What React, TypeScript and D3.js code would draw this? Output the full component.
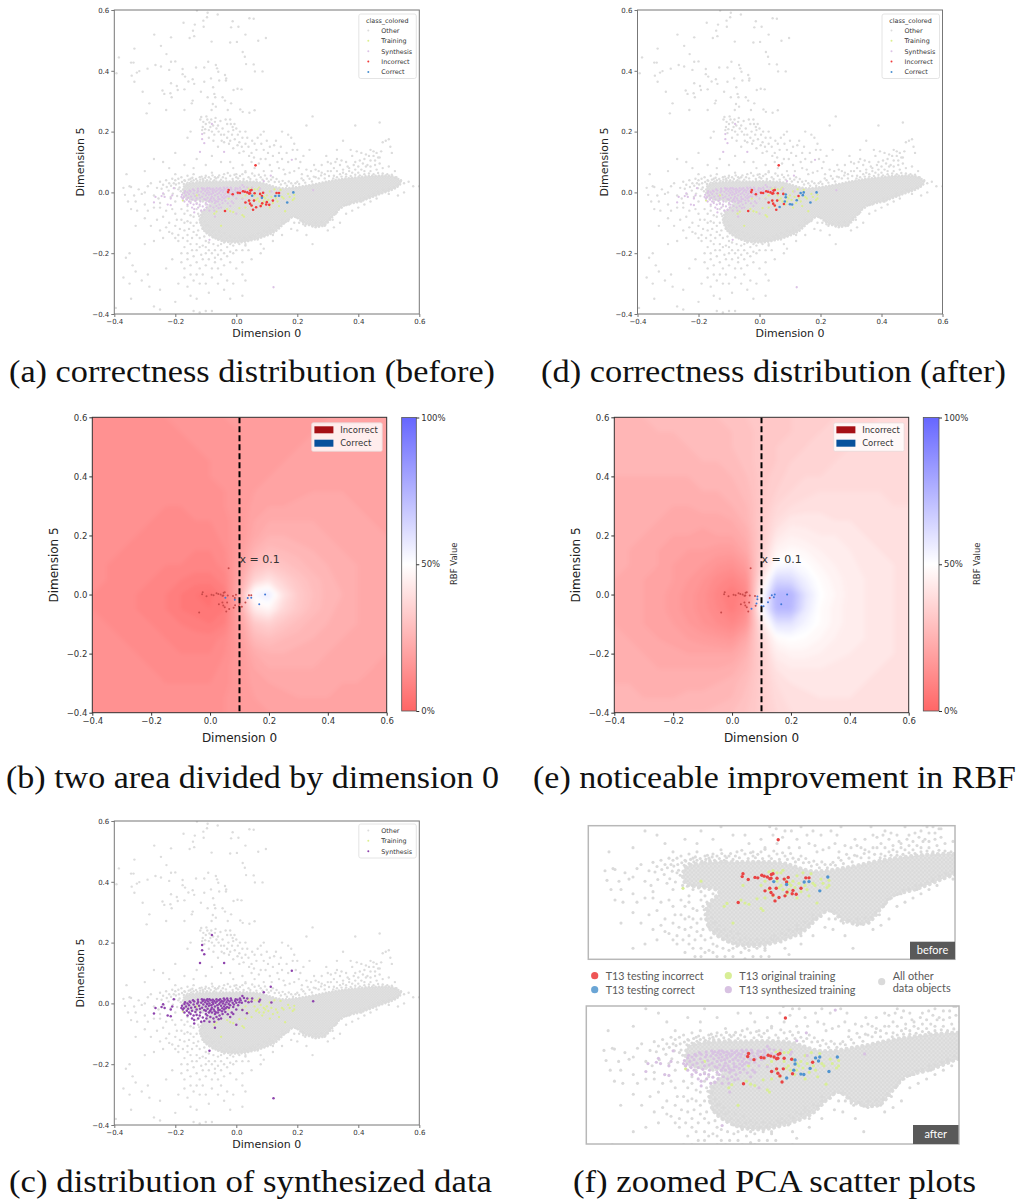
import React, { useRef, useEffect } from 'react';
import * as d3 from 'd3';

type Pt = [number, number];

const axisTicks = [-0.4, -0.2, 0, 0.2, 0.4, 0.6];
const colorbarTicks = [0, 50, 100];
const scatterLegend = ['Other', 'Training', 'Synthesis', 'Incorrect', 'Correct'];

// dense part of the PCA cloud, too many points to read one by one
const cloudOutline: Pt[] = [
  [-.17, .022], [-.12, .034], [-.04, .036], [.07, .034], [.15, .014], [.24, .024], [.31, .038], [.37, .047], [.46, .055], [.515, .052],
  [.54, .034], [.525, .016], [.47, -.006], [.405, -.03], [.35, -.045], [.32, -.075], [.285, -.11], [.23, -.105], [.19, -.08], [.165, -.095],
  [.125, -.13], [.06, -.155], [0, -.165], [-.06, -.155], [-.11, -.12], [-.115, -.07], [-.085, -.035], [-.17, -.014],
];

const otherPoints: Pt[] = [
  // top
  [-.094, .591], [-.129, .598], [-.061, .585], [-.096, .576], [-.173, .558], [-.108, .565], [-.136, .552], [-.107, .545], [-.012, .563], [.007, .545],
  [.043, .573], [.057, .571], [-.017, .543], [-.142, .532], [-.153, .508], [-.138, .514], [-.269, .519], [-.214, .510], [-.081, .496], [-.020, .493],
  [.002, .495], [.03, .519], [.072, .499], [.097, .508], [-.247, .482], [-.334, .473], [-.229, .455], [.021, .462], [.028, .446], [-.385, .444],
  [-.214, .430], [-.2, .431], [-.092, .43], [-.345, .427], [-.337, .427], [-.265, .419], [-.247, .414], [-.176, .406], [-.132, .411], [-.105, .411],
  [-.291, .407], [-.318, .399], [-.22, .403], [-.067, .419], [-.059, .397], [-.063, .408], [.032, .422], [.057, .421], [.061, .398], [.086, .398],
  [-.393, .392], [-.343, .384], [-.326, .394], [-.176, .389], [-.168, .381], [-.037, .386], [-.033, .375], [-.034, .368], [-.056, .368], [-.143, .372],
  [-.157, .365], [-.334, .364], [-.214, .359], [-.105, .364], [-.083, .375], [-.195, .35], [-.138, .357], [-.076, .346], [-.009, .337], [.004, .341],
  [.017, .339], [-.307, .331], [-.17, .339], [-.242, .335], [-.192, .337], [-.216, .326], [-.116, .331], [-.072, .324], [-.069, .313], [-.236, .324],
  [-.212, .313], [-.045, .313], [-.037, .302], [-.094, .313], [-.143, .302], [-.077, .291], [-.017, .293], [-.146, .293], [-.285, .293], [-.067, .282],
  [-.028, .271], [.013, .273], [.021, .265], [.043, .262], [-.23, .271], [-.294, .26], [-.17, .271], [-.081, .271],
  // middle hump
  [-.115, .248], [-.108, .232], [-.1, .225], [-.095, .24], [-.088, .23], [-.085, .215], [-.08, .2], [-.112, .205], [-.105, .195], [-.07, .232],
  [-.065, .21], [-.06, .22], [-.05, .19], [-.045, .21], [-.02, .24], [-.018, .225], [-.012, .215], [-.01, .205], [0, .21], [.005, .19],
  [-.03, .18], [-.02, .17], [-.005, .175], [.01, .165], [.02, .18], [.03, .16], [.03, .2], [-.03, .225], [-.04, .165], [-.09, .18],
  [-.075, .17], [-.06, .15], [-.01, .145], [.01, .13], [.04, .15], [.05, .13], [.06, .16], [.07, .18], [.08, .19], [.09, .14],
  [.1, .17], [.11, .15], [.12, .12], [.13, .17], [.14, .13], [.05, .1], [.06, .08], [.08, .11], [.09, .07], [.11, .09],
  [.14, .08], [.15, .11], [.17, .1], [.18, .18], [.19, .16], [.2, .14], [.21, .1], [.22, .12], [.24, .14], [.25, .25],
  [.255, .09], [.27, .07], [.29, .06], [.17, .19], [.16, .06], [.19, .07], [.06, .27], [.09, .2], [.15, .2], [.23, .22],
  [-.02, .1], [-.01, .08], [.02, .09], [.03, .07], [0, .06], [-.15, .2], [-.16, .18], [-.24, .1], [-.22, .08], [-.27, .11],
  [-.2, .13], [-.17, .09], [-.13, .11], [-.08, .12], [-.05, .1], [-.1, .09], [-.14, .08], [-.3, .07],
  // right branch
  [.31, .095], [.32, .08], [.33, .11], [.34, .09], [.35, .075], [.36, .1], [.37, .08], [.38, .12], [.39, .1], [.4, .085],
  [.41, .13], [.42, .11], [.43, .09], [.44, .14], [.45, .12], [.46, .13], [.47, .115], [.475, .135], [.48, .165], [.49, .17],
  [.5, .175], [.505, .15], [.51, .13], [.46, .075], [.44, .07], [.42, .07], [.4, .065], [.38, .065], [.36, .06], [.34, .06],
  [.32, .055], [.3, .07], [.33, .14], [.35, .17], [.39, .22], [.47, .23], [.295, .12], [.28, .09], [.415, .095], [.435, .12],
  [.455, .105], [.395, .135], [.375, .14], [.48, .08], [.5, .085], [.52, .07],
  // left flank
  [-.36, .06], [-.35, .02], [-.37, .015], [-.365, -.008], [-.345, .018], [-.335, -.01], [-.33, -.03], [-.31, -.005], [-.3, 0], [-.32, .01],
  [-.29, .02], [-.28, .03], [-.26, .015], [-.27, -.01], [-.255, -.02], [-.3, -.04], [-.355, -.03], [-.345, -.055], [-.325, -.06], [-.29, -.06],
  [-.27, -.05], [-.25, -.05], [-.24, .025], [-.23, .04], [-.22, .03], [-.21, .045], [-.205, .03], [-.2, .04], [-.25, -.035], [-.23, -.06],
  [-.21, -.055], [-.2, -.07], [-.24, -.08], [-.26, -.09], [-.28, -.11], [-.3, -.085], [-.33, -.11], [-.22, -.1], [-.195, -.09], [-.18, -.055],
  [-.17, -.07], [-.16, -.06], [-.15, -.075], [-.14, -.08], [-.18, -.09], [-.17, -.1], [-.16, -.095], [-.15, -.1], [-.14, -.11], [-.13, -.1],
  [-.12, -.09], [-.185, -.12], [-.17, -.125], [-.155, -.12], [-.14, -.13], [-.125, -.125], [-.11, -.12], [-.16, -.14], [-.145, -.15], [-.13, -.14],
  [-.12, -.15], [-.105, -.145], [-.1, -.16], [-.09, -.165], [-.075, -.17], [-.06, -.175], [-.05, -.17], [-.03, -.18], [-.01, -.175], [.01, -.17],
  [.03, -.17], [.05, -.15], [-.115, -.06], [-.125, -.07], [-.2, -.03], [-.215, -.015], [-.19, .01],
  // lower spread
  [-.11, -.175], [-.1, -.18], [-.09, -.19], [-.08, -.2], [-.07, -.19], [-.06, -.205], [-.05, -.19], [-.04, -.2], [-.03, -.21], [-.02, -.195],
  [-.01, -.2], [0, -.19], [.02, -.19], [-.12, -.18], [-.13, -.17], [-.15, -.17], [-.17, -.18], [-.19, -.16], [-.2, -.15], [-.22, -.13],
  [-.24, -.15], [-.27, -.16], [-.3, -.17], [-.35, -.2], [-.362, -.215], [-.34, -.24], [-.33, -.26], [-.37, -.28], [-.35, -.3], [-.345, -.35],
  [-.31, -.29], [-.29, -.27], [-.285, -.31], [-.27, -.375], [-.25, -.385], [-.25, -.32], [-.23, -.25], [-.21, -.22], [-.18, -.2], [-.18, -.23],
  [-.17, -.25], [-.16, -.22], [-.15, -.24], [-.14, -.21], [-.13, -.23], [-.12, -.25], [-.11, -.22], [-.1, -.24], [-.09, -.22], [-.08, -.25],
  [-.07, -.23], [-.06, -.25], [-.05, -.22], [-.04, -.24], [-.02, -.23], [0, -.25], [.02, -.23], [-.17, -.28], [-.16, -.31], [-.15, -.27],
  [-.14, -.29], [-.13, -.27], [-.12, -.3], [-.11, -.27], [-.1, -.3], [-.09, -.33], [-.08, -.28], [-.06, -.3], [-.05, -.27], [-.04, -.32],
  [-.03, -.29], [-.02, -.35], [-.01, -.3], [.02, -.34], [.03, -.29], [.02, -.27], [.05, -.22], [-.15, -.34], [-.13, -.35], [-.14, -.39],
  [-.12, -.395], [-.1, -.39], [-.08, -.39], [-.2, -.36], [-.19, -.3], [-.395, -.38], [.08, -.2], [.09, -.185], [.12, -.16], [.15, -.14],
  [.18, -.12], [.2, -.125], [.23, -.14], [.25, -.17], [.3, -.125], [.32, -.115], [.34, -.1], [.36, -.07], [.38, -.06], [.4, -.05],
  [.42, -.04], [.44, -.03], [.46, -.02], [.5, -.005], [.55, .03], [.565, .035], [.58, .02], [.6, .02], [.55, 0], [.53, -.01],
  // just above the cloud
  [-.2, .06], [-.18, .05], [-.16, .055], [-.14, .06], [-.12, .05], [-.1, .055], [-.08, .065], [-.06, .05], [-.04, .06], [-.02, .055],
  [0, .05], [.02, .06], [.04, .05], [.06, .055], [.08, .05], [.1, .045], [.12, .05], [.14, .035], [.16, .03], [.18, .03],
  [.2, .035], [.22, .04], [.24, .045], [.26, .05], [-.15, .045], [-.11, .045], [-.07, .05], [-.17, .04], [-.25, .035], [-.19, .045],
  // just below the cloud
  [-.15, -.03], [-.13, -.035], [-.11, -.03], [-.16, -.045], [-.12, -.045], [-.1, -.04], [.26, -.115], [.22, -.105], [.19, -.1], [.15, -.1],
  [.11, -.125], [.07, -.155], [.03, -.175], [-.02, -.17], [.29, -.11], [.33, -.065], [.37, -.04], [.41, -.03], [.45, -.01], [.49, .005],
  // second pass, left band
  [-.245, .012], [-.238, -.006], [-.228, .018], [-.222, .006], [-.214, .022], [-.208, -.004], [-.202, .014], [-.198, .026], [-.194, -.012], [-.188, .03],
  [-.186, .016], [-.182, .004], [-.178, .034], [-.176, -.02], [-.172, .028], [-.168, .038], [-.164, -.022], [-.16, .032], [-.156, .042], [-.152, -.02],
  [-.148, .036], [-.144, .048], [-.14, .04], [-.136, -.026], [-.132, .044], [-.128, .038], [-.124, -.022], [-.118, .042], [-.114, .052], [-.108, .04],
  [-.102, .048], [-.096, .04], [-.09, .05], [-.084, .044], [-.078, .056], [-.072, .04], [-.066, .046], [-.056, .056], [-.05, .042], [-.044, .05],
  [-.034, .046], [-.028, .064], [-.012, .044], [-.006, .058], [.006, .046], [.012, .054], [.024, .044], [.03, .066], [.046, .044], [.052, .062],
  [.066, .042], [.074, .058], [.086, .042], [.094, .056], [.106, .036], [.114, .042], [.126, .034], [.132, .044], [.146, .026], [.152, .038],
  [.166, .022], [.172, .036], [.186, .022], [.194, .03], [.206, .028], [.214, .046], [.226, .032], [.234, .054], [.248, .036], [.254, .052],
  [.27, .046], [.278, .056], [.29, .046], [.304, .054], [.318, .046], [.33, .05], [.345, .052], [.36, .052], [.375, .054], [.39, .058],
  [.405, .056], [.42, .06], [.435, .062], [.45, .06], [.465, .064], [.48, .062], [.495, .06], [.51, .058], [.525, .05], [.54, .04],
  // second pass, lower left lobe
  [-.13, -.055], [-.122, -.078], [-.118, -.1], [-.112, -.082], [-.108, -.07], [-.104, -.096], [-.1, -.11], [-.098, -.13], [-.094, -.108], [-.09, -.125],
  [-.088, -.14], [-.084, -.115], [-.08, -.13], [-.076, -.148], [-.072, -.125], [-.066, -.14], [-.06, -.155], [-.056, -.13], [-.05, -.145], [-.044, -.158],
  [-.038, -.135], [-.032, -.15], [-.026, -.162], [-.02, -.145], [-.014, -.158], [-.006, -.15], [.002, -.16], [.01, -.148], [.018, -.158], [.026, -.15],
  [.036, -.156], [.044, -.146], [.054, -.14], [.062, -.146], [.072, -.134], [.082, -.138], [.09, -.126], [.1, -.13], [.11, -.116], [.12, -.124],
  [.13, -.108], [.14, -.112], [.15, -.09], [.16, -.098], [.17, -.094], [.18, -.082], [.196, -.082], [.206, -.1], [.216, -.094], [.226, -.11],
  [.24, -.104], [.25, -.112], [.26, -.1], [.27, -.112], [.28, -.098], [.296, -.096], [.306, -.084], [.316, -.09], [.326, -.07], [.336, -.054],
  [.346, -.05], [.36, -.042], [.376, -.032], [.39, -.028], [.406, -.02], [.42, -.018], [.436, -.012], [.45, -.004], [.466, .002], [.482, .008],
  [.5, .012], [.516, .018], [.53, .024], [.12, -.14], [.08, -.17], [.04, -.19], [-.04, -.165], [-.1, -.2], [-.16, -.16], [-.2, -.11],
  [-.21, -.135], [-.23, -.115], [-.25, -.125], [-.19, -.14], [-.175, -.15], [-.13, -.19], [-.115, -.205], [-.145, -.19], [-.16, -.2], [-.07, -.215],
  // second pass, upper part
  [-.118, .24], [-.11, .215], [-.102, .208], [-.098, .25], [-.09, .205], [-.082, .24], [-.076, .22], [-.072, .19], [-.068, .245], [-.058, .2],
  [-.052, .235], [-.048, .17], [-.04, .19], [-.035, .24], [-.026, .2], [-.024, .16], [-.014, .19], [-.006, .225], [.004, .155], [.012, .2],
  [.018, .15], [.024, .135], [.036, .18], [.042, .12], [.052, .17], [.058, .115], [.066, .14], [.074, .095], [.082, .16], [.096, .11],
  [.104, .13], [.116, .07], [.124, .155], [.135, .1], [.146, .15], [.155, .075], [.165, .13], [.175, .065], [.185, .14], [.195, .11],
  [.205, .08], [.215, .06], [.23, .075], [.245, .07], [.26, .075], [.28, .065], [.3, .1], [.31, .07], [.325, .1], [.345, .105],
  [.365, .085], [.385, .09], [.405, .105], [.425, .125], [.44, .105], [.45, .135], [.465, .115], [.425, .085], [.41, .075], [.39, .075],
  [.37, .07], [.35, .065], [.33, .07], [.455, .09], [.47, .095], [.44, .085],
];

const trainingPoints: Pt[] = [
  [-.072, -.07], [-.065, -.063], [-.05, -.11], [-.03, -.055], [-.02, -.062], [-.01, -.065], [.01, -.052], [.02, -.075], [.025, -.08], [.03, -.05],
  [.04, -.03], [.05, -.045], [.06, -.01], [.065, -.025], [.07, .01], [.07, -.02], [.075, -.03], [.08, -.005], [.085, -.04], [.09, -.015],
  [.09, -.03], [.095, -.02], [.1, -.01], [.105, -.025], [.11, .003], [.115, -.015], [.12, -.035], [.125, .01], [.13, -.02], [.135, -.03],
  [.14, -.045], [.145, .008], [.15, -.015], [.155, -.02], [.16, -.062], [.17, -.005], [.175, -.015], [.19, -.008], [.19, -.02], [.06, .01],
  [.04, .012], [.05, .015], [-.175, -.027], [-.13, -.01], [.185, -.025], [.03, -.01], [.02, -.02], [-.025, -.02], [.11, -.05], [.075, .016],
];

const synthesisPoints: Pt[] = [
  [-.08, .225], [-.112, .192], [-.112, .175], [-.105, .162], [-.119, .133], [-.04, .133], [.182, .107], [.113, .055], [.09, .037], [.115, .003],
  [.252, .007], [.122, -.312], [-.088, -.156], [-.205, .014], [-.27, -.033], [-.265, -.015], [-.245, -.012], [-.24, -.003], [-.235, -.015], [-.215, -.02],
  [-.21, -.01], [-.225, -.04], [-.215, -.042], [-.18, -.015], [-.178, -.008], [-.172, -.016], [-.17, -.002], [-.165, -.01], [-.16, 0], [-.158, -.018],
  [-.155, -.006], [-.15, .003], [-.148, -.014], [-.145, -.024], [-.14, -.004], [-.138, .006], [-.135, -.012], [-.13, -.02], [-.128, 0], [-.125, .005],
  [-.122, -.008], [-.118, -.03], [-.115, .002], [-.112, -.014], [-.11, .008], [-.108, -.004], [-.105, -.022], [-.102, .004], [-.1, -.01], [-.098, .01],
  [-.096, -.002], [-.094, -.018], [-.092, .006], [-.09, -.008], [-.088, 0], [-.086, -.025], [-.084, .01], [-.082, -.006], [-.08, -.014], [-.078, .004],
  [-.076, -.002], [-.074, -.02], [-.072, .008], [-.07, -.01], [-.068, .002], [-.066, -.03], [-.064, .006], [-.062, -.006], [-.06, -.015], [-.058, .01],
  [-.056, -.002], [-.054, -.022], [-.052, .004], [-.05, -.008], [-.048, .008], [-.046, -.016], [-.044, 0], [-.042, .006], [-.04, -.01], [-.038, .012],
  [-.036, -.004], [-.032, .004], [-.03, -.012], [-.028, .01], [-.025, -.002], [-.022, .006], [-.02, -.006], [-.016, .01], [-.012, .002], [-.008, -.004],
  [-.004, .008], [0, .002], [.004, .012], [.01, .004], [.014, .01], [.02, .024], [.025, .018], [.03, .008], [.036, .016], [.04, .004],
  [.05, .006], [.052, .016], [.075, .006], [.078, .012], [-.14, -.04], [-.13, -.038], [-.125, -.05], [-.115, -.06], [-.11, -.046], [-.1, -.035],
  [-.098, -.05], [-.09, -.03], [-.085, -.045], [-.08, -.03], [-.075, -.05], [-.07, -.035], [-.065, -.045], [-.06, -.03], [-.055, -.04], [-.045, -.035],
  [-.04, -.02], [-.02, -.045], [-.015, -.03], [-.01, -.035], [.035, -.032], [.02, -.022], [-.138, -.066], [-.138, -.055], [-.15, -.035], [-.16, -.04],
  [-.17, -.03], [-.155, -.03], [0, -.02], [0, -.07], [-.07, -.08],
  // second pass, the band is thicker than the first read
  [-.175, -.02], [-.168, .004], [-.162, -.024], [-.153, .006], [-.142, .01], [-.134, -.028], [-.126, .012], [-.119, -.018], [-.113, .014], [-.106, .012],
  [-.1, -.024], [-.095, .014], [-.088, .014], [-.083, -.02], [-.077, .012], [-.071, -.026], [-.065, .014], [-.059, -.022], [-.053, .014], [-.047, -.026],
  [-.041, .016], [-.035, -.016], [-.03, .016], [-.024, -.014], [-.018, .016], [-.01, -.012], [-.002, .014], [.006, -.006], [.012, .016], [.018, .002],
  [-.12, -.04], [-.105, -.058], [-.095, -.04], [-.088, -.06], [-.072, -.06], [-.058, -.052], [-.05, -.05], [-.036, -.028], [-.028, -.036], [-.145, -.05],
];

const incorrectBefore: Pt[] = [
  [-.025, .008], [-.027, .001], [-.012, -.006], [.005, -.001], [.012, -.002], [.022, .004], [.028, .002], [.036, 0], [.042, -.004], [.046, .006],
  [.05, .008], [.045, -.003], [.06, -.003], [.078, -.005], [.088, -.001], [.084, -.012], [.03, -.033], [.042, -.027], [.045, -.037], [.05, -.043],
  [.058, -.027], [.055, -.057], [.065, -.049], [.08, -.045], [.085, -.036], [.1, -.032], [.098, -.04], [.108, -.041], [.12, -.027], [.132, -.002],
  [.14, -.002], [-.037, -.061], [.063, .089],
];

const correctBefore: Pt[] = [[.052, -.011], [.084, -.018], [.128, -.012], [.14, -.011], [.167, -.033], [.187, 0]];

const incorrectAfter: Pt[] = [
  [-.025, .008], [-.027, .001], [-.012, -.006], [.005, -.001], [.012, -.002], [.022, .004], [.028, .002], [.036, 0], [.042, -.004], [.046, .006],
  [.05, .008], [.045, -.003], [.06, -.003], [.078, -.005], [.03, -.033], [.042, -.027], [.045, -.037], [.05, -.043], [.058, -.027], [.055, -.057],
  [.08, -.038], [.128, -.012], [-.037, -.061], [.063, .089],
];

const correctAfter: Pt[] = [
  [.086, -.007], [.086, -.016], [.083, -.03], [.066, -.048], [.1, -.039], [.107, -.04], [.122, -.026], [.135, -.002], [.145, 0], [.142, -.009],
  [.167, -.033], [.187, 0],
];

// RBF value in %: rows y = 0.6 .. -0.4, columns x = -0.4 .. 0.6, step 0.05
const rbfBefore = [
  15,15,15,15,15,16,16,17,17,18,18,18,19,19,19,19,20,20,20,20,20,
  15,15,15,15,15,15,16,16,17,17,18,18,19,19,19,20,20,20,20,20,20,
  15,15,15,15,15,15,15,16,16,17,18,18,19,19,20,20,20,20,20,20,20,
  15,15,15,15,15,15,15,15,16,17,18,19,19,20,20,20,20,21,21,21,20,
  15,14,14,14,14,14,15,15,16,17,18,19,20,20,21,21,21,21,21,21,21,
  14,14,14,14,14,14,14,15,15,16,18,20,21,21,21,22,22,22,21,21,21,
  14,14,14,14,14,14,14,14,15,16,18,21,22,22,23,23,22,22,22,21,21,
  14,14,14,14,14,13,13,14,14,15,18,22,24,24,24,24,23,23,22,22,21,
  14,14,14,14,13,13,13,13,13,15,18,23,26,26,25,25,24,23,23,22,22,
  14,14,14,13,13,13,12,12,12,14,19,26,29,28,27,26,25,24,23,23,22,
  14,14,13,13,13,12,12,11,11,13,20,30,33,31,29,27,26,25,24,23,22,
  14,14,13,13,12,11,10,9,9,11,22,37,42,36,32,29,27,25,24,23,22,
  14,13,13,12,11,10,8,6,5,9,25,54,58,42,34,30,27,26,24,23,22,
  14,13,13,12,11,10,8,7,6,8,22,44,48,38,33,29,27,25,24,23,22,
  14,14,13,13,12,11,10,9,8,10,20,33,36,32,29,27,26,25,24,23,22,
  14,14,14,13,13,12,11,11,11,13,19,28,30,28,27,26,25,24,23,23,22,
  14,14,14,14,13,13,12,12,12,14,18,24,26,26,25,25,24,23,23,22,22,
  14,14,14,14,14,13,13,13,13,15,18,22,24,24,24,24,23,23,22,22,21,
  15,14,14,14,14,14,14,14,14,15,18,21,22,23,23,23,22,22,22,21,21,
  15,15,15,14,14,14,14,14,15,16,18,20,21,21,22,22,22,21,21,21,21,
  15,15,15,15,15,15,15,15,15,16,18,19,20,20,21,21,21,21,21,20,20,
];

const rbfAfter = [
  27,27,28,28,28,29,29,30,31,32,33,33,34,35,35,36,37,37,38,38,38,
  27,27,27,28,28,28,29,29,30,31,33,33,34,35,36,37,37,38,38,38,38,
  26,27,27,27,27,28,28,29,30,31,33,34,35,36,37,37,38,38,38,38,38,
  26,26,26,27,27,27,28,28,29,31,33,34,36,37,37,38,38,39,39,39,39,
  26,26,26,26,26,26,27,27,28,30,33,35,37,38,38,39,39,39,39,39,39,
  25,25,25,25,25,25,26,26,27,29,33,36,38,39,40,40,40,40,40,39,39,
  25,25,24,24,24,24,25,25,26,28,33,38,40,41,41,41,41,41,40,40,40,
  25,24,24,24,23,23,23,23,24,27,34,40,43,43,43,42,42,41,41,40,40,
  25,24,24,23,22,22,21,22,22,25,34,43,46,45,44,44,43,42,41,41,40,
  24,24,23,22,21,20,20,19,19,23,35,47,49,48,46,45,44,43,42,41,41,
  24,24,23,22,20,19,18,16,15,19,37,52,54,51,48,46,45,43,42,42,41,
  24,23,22,21,20,18,16,13,11,15,42,64,63,55,50,47,45,44,43,42,41,
  24,23,22,21,19,17,15,11,8,12,48,76,76,60,51,48,45,44,43,42,41,
  24,23,22,21,19,17,15,12,9,13,50,74,74,58,50,47,45,44,43,42,41,
  24,23,22,21,20,18,16,14,12,17,42,60,60,54,50,47,45,44,43,42,41,
  24,24,23,22,21,20,19,18,17,23,38,49,51,50,48,46,45,44,43,42,41,
  25,24,24,23,23,22,22,22,22,26,36,45,47,47,46,45,44,43,42,42,41,
  25,25,25,24,24,24,24,24,25,28,35,42,44,44,44,43,43,42,42,41,41,
  26,26,25,25,25,25,25,26,27,30,35,40,42,43,43,42,42,42,41,41,41,
  26,26,26,26,26,27,27,27,28,31,35,39,41,41,42,42,42,41,41,41,41,
  27,27,27,27,27,28,28,29,30,32,35,38,40,41,41,41,41,41,41,41,41,
];

const rbfColor = d3.scaleLinear<string>().domain([0, 50, 100]).range(['#ff6666', '#ffffff', '#6666ff']);
const SANS = 'DejaVu Sans, sans-serif';

function scales(x0: number, x1: number, y0: number, y1: number) {
  return {
    x: d3.scaleLinear().domain([-0.4, 0.6]).range([x0, x1]),
    y: d3.scaleLinear().domain([-0.4, 0.6]).range([y1, y0]),
  };
}

function dots(g, pts: Pt[], x, y, r: number, fill: string, opacity = 1) {
  g.append('g').selectAll('circle').data(pts).enter().append('circle')
    .attr('cx', d => x(d[0])).attr('cy', d => y(d[1]))
    .attr('r', r).attr('fill', fill).attr('opacity', opacity);
}

// mottled fill for the dense part, overlapping markers with white edges
function cloud(svg, g, id: string, x, y, cell: number) {
  const p = svg.append('pattern').attr('id', `${id}-cloud`).attr('patternUnits', 'userSpaceOnUse')
    .attr('width', cell).attr('height', cell);
  p.append('rect').attr('width', cell).attr('height', cell).attr('fill', '#e3e3e3');
  p.append('circle').attr('cx', cell * 0.25).attr('cy', cell * 0.25).attr('r', cell * 0.3).attr('fill', '#dadada');
  p.append('circle').attr('cx', cell * 0.75).attr('cy', cell * 0.75).attr('r', cell * 0.3).attr('fill', '#dadada');
  const line = d3.line<Pt>().x(d => x(d[0])).y(d => y(d[1])).curve(d3.curveCatmullRomClosed);
  g.append('path').attr('d', line(cloudOutline)).attr('fill', `url(#${id}-cloud)`)
    .attr('stroke', '#dcdcdc').attr('stroke-width', cell * 0.95).attr('stroke-linecap', 'round')
    .attr('stroke-dasharray', `0.1 ${cell * 1.25}`);
}

function axes(svg, x, y, o: { size: number; labelSize: number; xLabelY: number; yLabelX: number; frame: string; tickColor: string }) {
  const fmt = d3.format('.1f');
  const [x0, x1] = x.range();
  const [y1, y0] = y.range();
  const styleAxis = g => {
    g.selectAll('text').attr('font-family', SANS).attr('font-size', o.size).attr('fill', o.tickColor);
    g.selectAll('line').attr('stroke', o.frame);
    g.select('.domain').remove();
  };
  svg.append('g').attr('transform', `translate(0,${y1})`)
    .call(d3.axisBottom(x).tickValues(axisTicks).tickFormat(fmt).tickSize(3).tickPadding(2)).call(styleAxis);
  svg.append('g').attr('transform', `translate(${x0},0)`)
    .call(d3.axisLeft(y).tickValues(axisTicks).tickFormat(fmt).tickSize(3).tickPadding(2)).call(styleAxis);
  svg.append('rect').attr('x', x0).attr('y', y0).attr('width', x1 - x0).attr('height', y1 - y0)
    .attr('fill', 'none').attr('stroke', o.frame).attr('stroke-width', 1);
  svg.append('text').attr('x', (x0 + x1) / 2).attr('y', o.xLabelY).attr('text-anchor', 'middle')
    .attr('font-family', SANS).attr('font-size', o.labelSize).attr('fill', '#222').text('Dimension 0');
  svg.append('text').attr('transform', `translate(${o.yLabelX},${(y0 + y1) / 2}) rotate(-90)`).attr('text-anchor', 'middle')
    .attr('font-family', SANS).attr('font-size', o.labelSize).attr('fill', '#222').text('Dimension 5');
}

function scatterPanel(svg, id: string, px: number[], incorrect: Pt[], correct: Pt[], boldSynthesis: boolean) {
  const { x, y } = scales(px[0], px[1], px[2], px[3]);
  svg.append('clipPath').attr('id', id).append('rect')
    .attr('x', px[0]).attr('y', px[2]).attr('width', px[1] - px[0]).attr('height', px[3] - px[2]);
  const g = svg.append('g').attr('clip-path', `url(#${id})`);
  cloud(svg, g, id, x, y, 2.6);
  dots(g, otherPoints, x, y, 1.2, '#dcdcdc');
  dots(g, trainingPoints, x, y, 1.15, '#dcef8f');
  dots(g, synthesisPoints, x, y, boldSynthesis ? 1.25 : 1.15, boldSynthesis ? '#8e44ad' : '#dcc3e6');
  dots(g, incorrect, x, y, 1.3, '#f03b3b');
  dots(g, correct, x, y, 1.3, '#4a90d0');
  axes(svg, x, y, { size: 7, labelSize: 11, xLabelY: px[3] + 23, yLabelX: px[0] - 30, frame: '#777', tickColor: '#333' });

  // legend
  const names = boldSynthesis ? scatterLegend.slice(0, 3) : scatterLegend;
  const colors = ['#dcdcdc', '#dcef8f', boldSynthesis ? '#8e44ad' : '#dcc3e6', '#f03b3b', '#4a90d0'];
  const lx = px[1] - 60.5;
  const ly = px[2] + (boldSynthesis ? 3 : 4);
  const top = boldSynthesis ? 6.5 : 16.5;
  svg.append('rect').attr('x', lx).attr('y', ly).attr('rx', 2)
    .attr('width', 57.5).attr('height', boldSynthesis ? 34 : 64.5)
    .attr('fill', 'white').attr('fill-opacity', 0.8).attr('stroke', '#ddd').attr('stroke-width', 0.8);
  if (!boldSynthesis) {
    svg.append('text').attr('x', lx + 28.5).attr('y', ly + 8.5).attr('text-anchor', 'middle')
      .attr('font-family', SANS).attr('font-size', 6.4).attr('fill', '#333').text('class_colored');
  }
  names.forEach((name, i) => {
    const cy = ly + top + i * 10.35;
    svg.append('circle').attr('cx', lx + 9.5).attr('cy', cy).attr('r', 1).attr('fill', colors[i]);
    svg.append('text').attr('x', lx + 22.5).attr('y', cy + 2.3)
      .attr('font-family', SANS).attr('font-size', 6.4).attr('fill', '#333').text(name);
  });
}

function rbfPanel(svg, id: string, px: number[], bar: number[], grid: number[], incorrect: Pt[], correct: Pt[]) {
  const { x, y } = scales(px[0], px[1], px[2], px[3]);
  svg.append('clipPath').attr('id', id).append('rect')
    .attr('x', px[0]).attr('y', px[2]).attr('width', px[1] - px[0]).attr('height', px[3] - px[2]);
  svg.append('filter').attr('id', `${id}-soft`).append('feGaussianBlur').attr('stdDeviation', 2.2);
  const g = svg.append('g').attr('clip-path', `url(#${id})`);
  g.append('rect').attr('x', px[0]).attr('y', px[2]).attr('width', px[1] - px[0]).attr('height', px[3] - px[2])
    .attr('fill', rbfColor(d3.min(grid)));

  // contourf-like bands from the grid, softened because the grid is coarse
  const contours = d3.contours().size([21, 21]).thresholds(d3.range(2, 100, 2))(grid);
  const toPx = d3.geoTransform({
    point(cx, cy) {
      this.stream.point(x(-0.4 + (cx - 0.5) * 0.05), y(0.6 - (cy - 0.5) * 0.05));
    },
  });
  const path = d3.geoPath(toPx);
  g.append('g').attr('filter', `url(#${id}-soft)`).selectAll('path').data(contours).enter().append('path')
    .attr('d', path).attr('fill', d => rbfColor(d.value));

  dots(g, incorrect, x, y, 1, '#c94a4a');
  dots(g, correct, x, y, 1, '#3f78d8');
  g.append('line').attr('x1', x(0.1)).attr('x2', x(0.1)).attr('y1', px[2]).attr('y2', px[3])
    .attr('stroke', '#000').attr('stroke-width', 2).attr('stroke-dasharray', '6 3');
  svg.append('text').attr('x', x(0.1)).attr('y', y(0.1) - 2).attr('font-family', SANS)
    .attr('font-size', 11).attr('fill', '#333').text('x = 0.1');
  axes(svg, x, y, { size: 8.5, labelSize: 12, xLabelY: px[3] + 29, yLabelX: px[0] - 34, frame: '#333', tickColor: '#333' });

  // legend
  const lx = px[1] - 75;
  svg.append('rect').attr('x', lx).attr('y', px[2] + 5.5).attr('width', 70.5).attr('height', 28.5).attr('rx', 1.5)
    .attr('fill', 'white').attr('fill-opacity', 0.8).attr('stroke', '#e8d8d8').attr('stroke-width', 0.8);
  [['Incorrect', '#a50f15'], ['Correct', '#08519c']].forEach(([name, c], i) => {
    svg.append('rect').attr('x', lx + 2.7).attr('y', px[2] + 9 + i * 13.4).attr('width', 19).attr('height', 7).attr('fill', c);
    svg.append('text').attr('x', lx + 28.5).attr('y', px[2] + 15.5 + i * 13.4).attr('font-family', SANS)
      .attr('font-size', 8.5).attr('fill', '#333').text(name);
  });

  // colorbar
  const by = d3.scaleLinear().domain([0, 100]).range([bar[3], bar[2]]);
  const grad = svg.append('linearGradient').attr('id', `${id}-grad`).attr('x1', 0).attr('x2', 0).attr('y1', 1).attr('y2', 0);
  colorbarTicks.forEach(t => {
    grad.append('stop').attr('offset', `${t}%`).attr('stop-color', rbfColor(t));
  });
  svg.append('rect').attr('x', bar[0]).attr('y', bar[2]).attr('width', bar[1] - bar[0]).attr('height', bar[3] - bar[2])
    .attr('fill', `url(#${id}-grad)`).attr('stroke', '#555').attr('stroke-width', 0.8);
  const barAxis = svg.append('g').attr('transform', `translate(${bar[1]},0)`)
    .call(d3.axisRight(by).tickValues(colorbarTicks).tickFormat(d => `${d}%`).tickSize(3).tickPadding(2));
  barAxis.select('.domain').remove();
  barAxis.selectAll('text').attr('font-family', SANS).attr('font-size', 8.5).attr('fill', '#333');
  barAxis.selectAll('line').attr('stroke', '#333');
  svg.append('text').attr('transform', `translate(${bar[1] + 41},${(bar[2] + bar[3]) / 2 - 0.5}) rotate(-90)`)
    .attr('text-anchor', 'middle').attr('font-family', SANS).attr('font-size', 8.5).attr('fill', '#333').text('RBF Value');
}

function zoomPanel(svg, id: string, frame: number[], origin: Pt, unit: Pt, tag: string, tagBox: number[], incorrect: Pt[], correct: Pt[], withSynthesis: boolean) {
  const x = d3.scaleLinear().domain([0, 1]).range([origin[0], origin[0] + unit[0]]);
  const y = d3.scaleLinear().domain([0, 1]).range([origin[1], origin[1] - unit[1]]);
  svg.append('clipPath').attr('id', id).append('rect')
    .attr('x', frame[0]).attr('y', frame[2]).attr('width', frame[1] - frame[0]).attr('height', frame[3] - frame[2]);
  const g = svg.append('g').attr('clip-path', `url(#${id})`);
  cloud(svg, g, id, x, y, 4.2);
  dots(g, otherPoints, x, y, 1.55, '#dadada');
  dots(g, trainingPoints, x, y, 1.6, '#d8ee96');
  if (withSynthesis) dots(g, synthesisPoints, x, y, 1.6, '#d8c2e2');
  dots(g, incorrect, x, y, 1.7, '#e94343');
  dots(g, correct, x, y, 1.7, '#4f94d0');
  svg.append('rect').attr('x', frame[0]).attr('y', frame[2]).attr('width', frame[1] - frame[0]).attr('height', frame[3] - frame[2])
    .attr('fill', 'none').attr('stroke', '#b8b8b8').attr('stroke-width', 1.5);
  svg.append('rect').attr('x', tagBox[0]).attr('y', tagBox[1]).attr('width', tagBox[2]).attr('height', tagBox[3]).attr('fill', '#595959');
  svg.append('text').attr('x', tagBox[0] + tagBox[2] / 2).attr('y', tagBox[1] + tagBox[3] / 2 + 3.8).attr('text-anchor', 'middle')
    .attr('font-family', 'Lato, sans-serif').attr('font-size', 11).attr('fill', '#fff').text(tag);
}

function zoomLegend(svg) {
  const items: [number, number, string, string, number][] = [
    [594.7, 980, 'T13 testing incorrect', '#ee5555', 98],
    [594.7, 994, 'T13 testing correct', '#6aa5d5', 89],
    [728.3, 980, 'T13 original training', '#d8ee96', 96],
    [728.3, 994, 'T13 synthesized training', '#d8c2e2', 116],
  ];
  items.forEach(([cx, base, name, c, len]) => {
    svg.append('circle').attr('cx', cx).attr('cy', base - 4.3).attr('r', 3.6).attr('fill', c);
    svg.append('text').attr('x', cx + 11).attr('y', base).attr('font-family', 'Lato, sans-serif').attr('font-size', 11)
      .attr('fill', '#595959').attr('textLength', len).attr('lengthAdjust', 'spacingAndGlyphs').text(name);
  });
  svg.append('circle').attr('cx', 881.7).attr('cy', 981.7).attr('r', 3.6).attr('fill', '#dadada');
  [['All other', 980, 41], ['data objects', 992, 58]].forEach(([name, base, len]) => {
    svg.append('text').attr('x', 892.7).attr('y', base).attr('font-family', 'Lato, sans-serif').attr('font-size', 11)
      .attr('fill', '#595959').attr('textLength', len).attr('lengthAdjust', 'spacingAndGlyphs').text(name);
  });
}

const captions: [string, number, number, number][] = [
  ['(a) correctness distribution (before)', 9, 382, 486],
  ['(d) correctness distribution (after)', 541, 382, 465],
  ['(b) two area divided by dimension 0', 6, 788, 493],
  ['(e) noticeable improvement in RBF', 533, 788, 483],
  ['(c) distribution of synthesized data', 9, 1192, 483],
  ['(f) zoomed PCA scatter plots', 573, 1192, 403],
];

export default function App() {
  const svgRef = useRef(null);

  useEffect(() => {
    const svg = d3.select(svgRef.current);
    svg.selectAll('*').remove();

    scatterPanel(svg, 'clip-a', [114.3, 419.3, 10, 314], incorrectBefore, correctBefore, false);
    scatterPanel(svg, 'clip-d', [637.5, 942.5, 10, 314], incorrectAfter, correctAfter, false);
    scatterPanel(svg, 'clip-c', [114.3, 419.3, 821, 1125], [], [], true);
    rbfPanel(svg, 'clip-b', [92.3, 386.7, 417.3, 712.7], [401.7, 416.3, 417.5, 711], rbfBefore, incorrectBefore, correctBefore);
    rbfPanel(svg, 'clip-e', [614.3, 908.7, 417.3, 712.7], [923.3, 939, 417.5, 711], rbfAfter, incorrectAfter, correctAfter);
    zoomPanel(svg, 'clip-f1', [588.3, 955, 825.7, 959.3], [753, 877], [400, 419], 'before', [910, 941.7, 45, 17.6], incorrectBefore, correctBefore, false);
    zoomPanel(svg, 'clip-f2', [586.3, 959, 1006, 1144], [759, 1057], [419, 439], 'after', [913, 1125, 45.5, 19], incorrectAfter, correctAfter, true);
    zoomLegend(svg);

    captions.forEach(([label, cx, cy, len]) => {
      svg.append('text').attr('x', cx).attr('y', cy)
        .attr('font-family', 'Liberation Serif, serif').attr('font-size', 32).attr('fill', '#111')
        .attr('textLength', len).attr('lengthAdjust', 'spacingAndGlyphs').text(label);
    });
  }, []);

  return <svg ref={svgRef} width={1018} height={1203} style={{ position: 'absolute', left: 0, top: 0, background: '#fff' }}></svg>;
}
